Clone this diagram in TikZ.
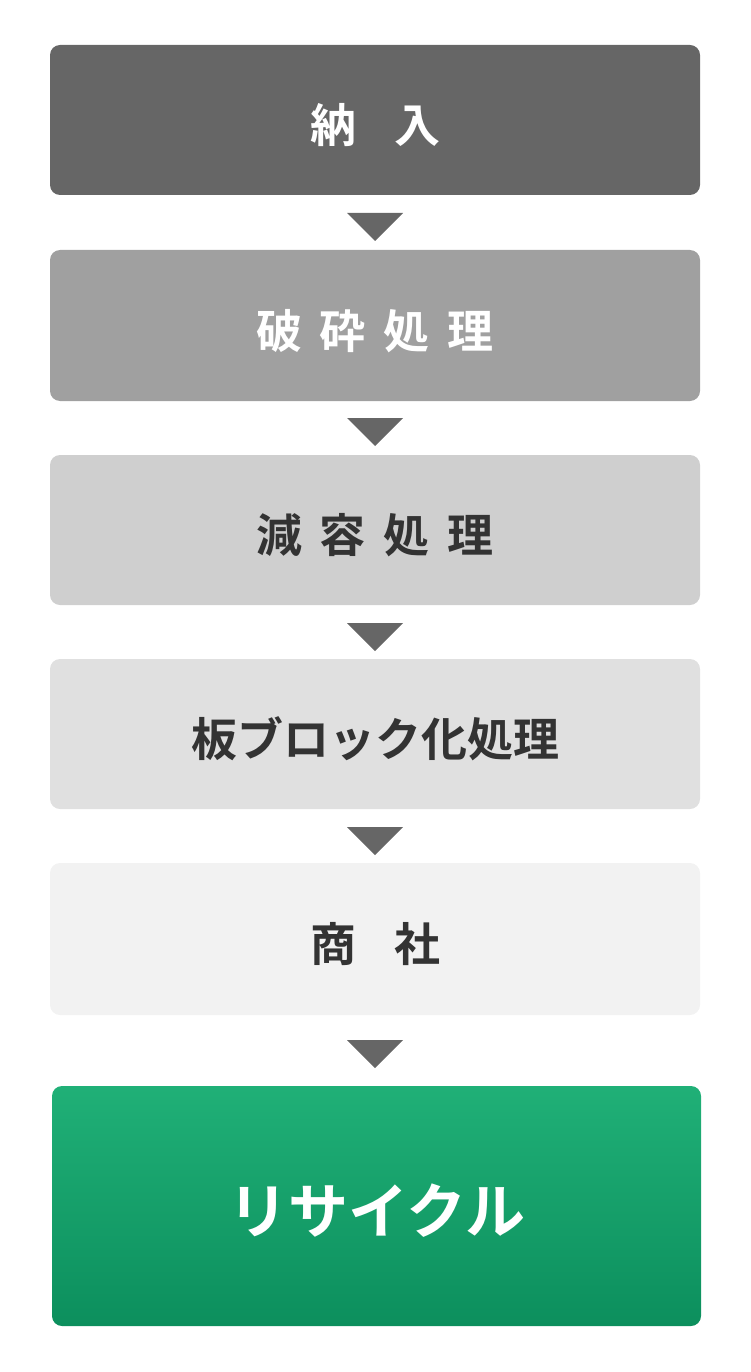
\documentclass[tikz,border=0pt]{standalone}
\usepackage{fontspec}
\newfontfamily\jpfont{Noto Sans CJK JP Bold}
\usetikzlibrary{positioning}
\definecolor{boxA}{HTML}{666666}
\definecolor{boxB}{HTML}{A0A0A0}
\definecolor{boxC}{HTML}{CFCFCF}
\definecolor{boxD}{HTML}{E0E0E0}
\definecolor{boxE}{HTML}{F2F2F2}
\definecolor{txtdark}{HTML}{333333}
\definecolor{greenTop}{HTML}{20B077}
\definecolor{greenBot}{HTML}{0C8F5D}
\tikzset{
  flowbox/.style={rectangle, rounded corners=10pt, minimum width=650pt,
    minimum height=150pt, inner sep=0pt, text height=45pt, text depth=0pt,
    font=\jpfont\fontsize{46}{46}\selectfont},
  marker/.style={fill=boxA}
}
\newcommand{\gap}[1]{\hspace{#1pt}}
\begin{document}
\begin{tikzpicture}[x=1pt, y=-1pt]
\useasboundingbox (0,0) rectangle (750,1372);
\node [flowbox, fill=boxA, text=white] (nounyu) at (375,120) {納\gap{38}入};
\node [flowbox, fill=boxB, text=white, minimum height=151pt] (hasai) at (375,325.5) {破\gap{18}砕\gap{18}処\gap{18}理};
\node [flowbox, fill=boxC, text=txtdark] (genyou) at (375,530) {減\gap{18}容\gap{18}処\gap{18}理};
\node [flowbox, fill=boxD, text=txtdark] (block) at (375,734) {板ブロック化処理};
\node [flowbox, fill=boxE, text=txtdark, minimum height=152pt] (shosha) at (375,939) {商\gap{38}社};
\node [flowbox, top color=greenTop, bottom color=greenBot, text=white,
  minimum width=649pt, minimum height=240pt, text height=54pt,
  font=\jpfont\fontsize{60}{60}\selectfont] (recycle) at (376.5,1206) {リサイクル};
% triangles between the steps
\foreach \y in {213,418,623,827,1040}
  \fill [marker] (347,\y) -- (403,\y) -- (375,\y+28) -- cycle;
\end{tikzpicture}
\end{document}
